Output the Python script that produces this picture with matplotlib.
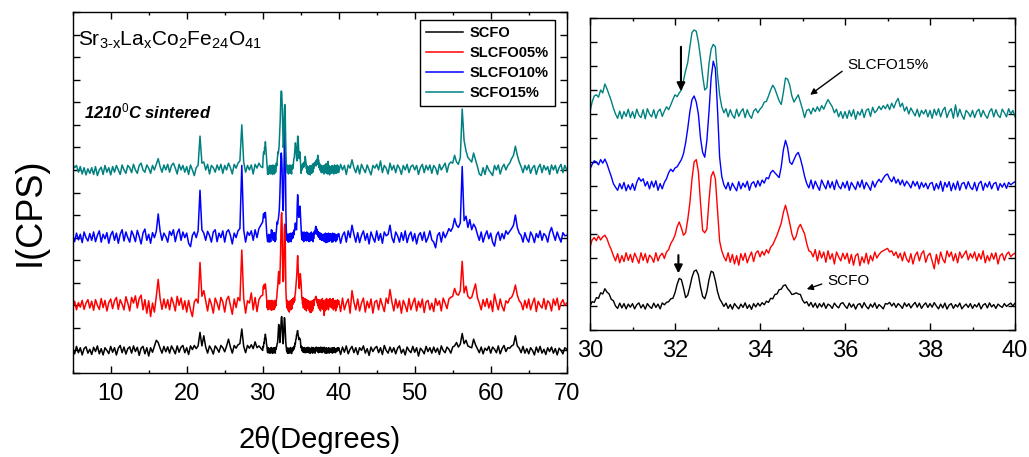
import numpy as np
import matplotlib.pyplot as plt
from matplotlib.ticker import MultipleLocator, NullFormatter

plt.rcParams['font.family'] = ['Liberation Sans', 'DejaVu Sans']
plt.rcParams['mathtext.fontset'] = 'custom'
plt.rcParams['mathtext.rm'] = 'Liberation Sans'
plt.rcParams['mathtext.it'] = 'Liberation Sans:italic'
plt.rcParams['mathtext.bf'] = 'Liberation Sans:bold'

# 2-theta grid: coarse outside 30-40, fine inside (that part is shown in the zoom panel)
two_theta = np.concatenate([np.linspace(5, 29.75, 100),
                            np.linspace(30, 39.95, 200),
                            np.linspace(40, 70, 121)])

# relative intensities (arbitrary units)
scfo = [
    # 5.00 - 29.75
    0.05, -0.15, 0.18, -0.1, 0.12, -0.2, 0.08, 0.16, -0.12, 0.05,
    -0.18, 0.14, -0.05, 0.2, -0.15, 0.08, -0.2, 0.12, 0.0, -0.14,
    0.18, -0.08, 0.12, -0.2, 0.1, 0.22, -0.1, 0.15, -0.16, 0.08,
    0.16, -0.12, 0.2, -0.05, 0.14, -0.22, 0.1, 0.18, -0.15, 0.12,
    -0.25, 0.12, -0.08, 0.18, 0.45, 0.35, 0.1, -0.12, 0.18, -0.06,
    0.16, -0.12, 0.2, 0.04, -0.15, 0.2, -0.08, 0.14, 0.22, -0.1,
    0.12, -0.18, 0.2, 0.04, 0.22, 0.08, 0.2, 0.8, 0.2, 0.65,
    0.15, -0.12, 0.2, 0.05, -0.16, 0.2, 0.08, -0.08, 0.22, 0.12,
    -0.06, 0.2, 0.5, 0.15, -0.12, 0.22, 0.1, 0.25, 0.3, 0.95,
    0.18, -0.1, 0.22, 0.1, 0.25, 0.08, 0.38, 0.12, 0.2, 0.1,
    # 30.00 - 39.95
    0.0, 0.18, 0.15, 0.35, 0.32, 0.55, 0.5, 0.72, 0.58, 0.5, 0.28, 0.22, 0.0, -0.1, 0.12, -0.08, 0.1, -0.12, 0.08, -0.05,
    0.1, -0.12, 0.05, 0.13, -0.08, 0.06, -0.13, 0.1, -0.02, -0.1, 0.12, -0.06, 0.08, -0.12, 0.13, 0.05, 0.15, 0.18, 0.3, 0.32,
    0.55, 0.9, 1.15, 1.1, 0.75, 0.35, 0.45, 0.8, 1.2, 1.45, 1.5, 1.3, 0.8, 0.4, 0.3, 0.6, 1.1, 1.45, 1.4, 1.05,
    0.6, 0.3, 0.15, -0.02, 0.12, -0.1, 0.06, -0.13, 0.1, -0.02, -0.12, 0.08, -0.06, 0.13, -0.1, 0.05, -0.14, 0.1, -0.04, 0.12,
    0.0, 0.14, 0.05, 0.2, 0.15, 0.32, 0.3, 0.48, 0.5, 0.68, 0.7, 0.85, 0.88, 0.72, 0.62, 0.48, 0.5, 0.55, 0.5, 0.48,
    0.25, 0.12, 0.18, 0.0, 0.15, -0.05, 0.12, -0.08, 0.1, -0.04, 0.13, -0.1, 0.08, 0.02, -0.1, 0.12, 0.0, -0.08, 0.1, 0.14,
    0.0, -0.1, 0.12, -0.05, 0.08, -0.13, 0.06, 0.1, -0.08, 0.14, -0.02, -0.12, 0.08, -0.05, 0.13, -0.1, 0.06, -0.02, -0.12, 0.1,
    0.08, 0.15, 0.0, 0.12, -0.06, 0.1, 0.02, -0.1, 0.13, -0.02, 0.1, -0.08, 0.05, 0.15, -0.05, 0.12, -0.1, 0.04, 0.13, -0.06,
    0.1, -0.05, 0.14, 0.0, -0.12, 0.08, -0.08, 0.12, -0.13, 0.04, 0.1, -0.1, 0.06, -0.04, 0.12, -0.12, 0.0, 0.08, -0.06, 0.1,
    -0.1, 0.06, -0.04, 0.12, -0.12, 0.04, 0.1, -0.08, 0.13, -0.04, 0.06, -0.1, 0.08, 0.0, -0.06, 0.1, -0.02, 0.06, 0.12, 0.0,
    # 40.00 - 70.00
    0.12, -0.18, 0.15, -0.08, 0.2, -0.15, 0.05, 0.18, -0.1, 0.12,
    -0.18, 0.12, 0.0, 0.2, -0.12, 0.08, -0.22, 0.15, -0.05, 0.1,
    0.18, -0.1, 0.12, -0.18, 0.22, 0.0, -0.12, 0.15, -0.08, 0.12,
    -0.15, 0.1, 0.2, -0.12, 0.05, -0.2, 0.15, 0.0, -0.1, 0.18,
    -0.08, 0.12, -0.25, 0.1, 0.0, -0.15, 0.18, -0.05, 0.12, -0.12,
    0.15, -0.08, 0.1, -0.18, 0.2, 0.0, -0.1, 0.15, 0.05, -0.12,
    0.15, 0.2, 0.35, 0.15, 0.28, 0.75, 0.3, 0.45, 0.2, 0.15,
    0.12, 0.5, 0.25, 0.08, -0.1, 0.15, -0.15, 0.1, 0.0, 0.18,
    -0.12, 0.15, 0.05, -0.1, 0.2, -0.15, 0.08, 0.22, -0.05, 0.12,
    0.1, 0.2, 0.25, 0.65, 0.2, 0.1, -0.1, 0.18, -0.12, 0.08,
    -0.15, 0.12, 0.0, -0.2, 0.15, -0.08, 0.18, -0.12, 0.05, -0.18,
    0.12, -0.05, 0.15, -0.12, 0.08, -0.2, 0.1, 0.0, -0.15, 0.12,
    0.05,
]

slcfo05 = [
    -0.1, 0.18, -0.2, 0.12, -0.08, 0.22, -0.18, 0.1, 0.25, -0.12,
    0.18, -0.22, 0.25, 0.0, -0.18, 0.3, -0.1, 0.22, -0.25, 0.12,
    0.28, -0.15, 0.2, 0.35, -0.18, 0.25, 0.05, -0.2, 0.38, 0.1,
    -0.25, 0.35, 0.1, 0.42, -0.12, 0.3, 0.45, -0.2, 0.25, -0.35,
    0.2, -0.5, 0.1, -0.3, 0.4, 1.15, 0.3, -0.18, 0.28, -0.12,
    0.25, -0.2, 0.35, 0.1, -0.25, 0.4, 0.0, 0.32, -0.18, 0.2,
    -0.3, 0.22, -0.2, -0.5, 0.15, 0.28, 0.1, 1.9, 0.4, 0.65,
    0.2, -0.25, 0.3, 0.05, -0.35, 0.32, 0.1, -0.2, 0.35, 0.15,
    -0.3, 0.25, 0.4, 0.0, -0.4, 0.28, -0.1, 0.35, 0.2, 2.45,
    0.3, -0.35, 0.2, 0.1, 0.55, -0.2, 0.35, -0.28, 0.25, 0.4,
    0.45, 0.75, 0.85, 0.72, 0.92, 0.75, 0.88, 0.95, 0.8, 0.55, 0.35, 0.1, -0.12, 0.18, -0.2, 0.1, -0.15, 0.22, -0.1, 0.15,
    -0.18, 0.2, 0.0, -0.22, 0.22, -0.1, 0.18, -0.2, 0.12, 0.02, -0.18, 0.22, -0.12, 0.1, 0.2, -0.02, 0.25, 0.35, 0.6, 0.75,
    0.95, 1.3, 1.5, 1.25, 0.95, 1.05, 1.6, 2.3, 3.3, 4.0, 4.1, 3.6, 2.3, 1.15, 1.05, 1.2, 2.4, 3.4, 3.6, 3.3,
    2.0, 0.7, 0.3, 0.05, -0.12, 0.22, -0.18, 0.15, -0.25, 0.1, -0.3, 0.18, -0.1, 0.2, -0.2, 0.05, 0.25, -0.15, 0.2, 0.3,
    0.05, 0.28, 0.12, 0.35, 0.2, 0.45, 0.55, 0.75, 0.95, 1.2, 1.45, 1.9, 2.2, 1.85, 1.45, 1.0, 0.75, 0.9, 1.25, 1.4,
    1.2, 1.0, 0.6, 0.3, 0.25, 0.05, 0.35, -0.12, 0.3, 0.0, 0.25, -0.18, 0.3, -0.05, 0.18, -0.25, 0.25, 0.05, -0.12, 0.2,
    -0.05, 0.2, -0.22, 0.15, -0.3, 0.1, 0.18, -0.32, 0.05, -0.2, 0.2, -0.25, 0.1, -0.12, 0.25, 0.0, 0.15, 0.25, 0.3, 0.35,
    0.4, 0.25, 0.3, 0.1, 0.25, 0.0, 0.2, -0.12, 0.25, -0.05, -0.18, 0.18, -0.25, 0.1, 0.25, -0.12, 0.18, 0.3, -0.18, 0.1,
    0.2, -0.12, -0.45, 0.15, -0.25, 0.25, -0.05, -0.2, 0.3, 0.05, 0.25, -0.12, 0.18, -0.2, 0.25, 0.0, 0.15, 0.3, -0.08, 0.18,
    0.0, 0.25, -0.12, 0.18, -0.05, 0.3, -0.2, 0.1, -0.12, 0.2, -0.05, 0.22, -0.25, 0.1, 0.18, -0.1, 0.15, 0.25, 0.05, 0.15,
    0.2, -0.28, 0.32, -0.2, 0.1, 0.28, -0.35, 0.65, 0.15, -0.2,
    0.28, -0.25, 0.1, 0.32, -0.3, 0.18, -0.12, 0.28, -0.35, 0.15,
    0.22, -0.2, 0.3, 0.0, -0.28, 0.32, 0.08, 0.7, 0.15, -0.25,
    0.28, -0.12, 0.2, -0.35, 0.22, 0.0, -0.28, 0.3, -0.2, 0.1,
    0.32, -0.25, 0.18, -0.1, 0.28, -0.32, 0.15, 0.22, -0.2, 0.1,
    -0.28, 0.3, 0.0, 0.2, -0.25, 0.32, 0.1, -0.15, 0.28, 0.35,
    0.4, 0.75, 0.5, 0.45, 0.65, 1.95, 0.55, 0.85, 0.4, 0.3,
    0.35, 0.65, 0.95, 0.35, 0.1, -0.2, 0.25, -0.05, 0.3, -0.12,
    0.2, -0.28, 0.5, 0.1, -0.2, 0.28, -0.05, -0.25, 0.2, 0.1,
    0.3, 0.35, 0.55, 0.9, 0.45, 0.2, 0.1, -0.2, 0.22, -0.12,
    0.28, -0.2, 0.1, 0.32, -0.28, 0.18, 0.0, -0.12, 0.3, -0.18,
    0.2, 0.1, -0.25, 0.28, 0.0, 0.32, -0.2, 0.1, 0.25, 0.0,
    0.1,
]

slcfo10 = [
    0.1, -0.18, 0.2, -0.1, 0.15, -0.22, 0.25, 0.0, -0.15, 0.18,
    -0.12, 0.25, -0.18, 0.1, 0.3, -0.2, 0.15, -0.05, 0.22, -0.25,
    0.12, 0.28, -0.12, 0.2, -0.25, 0.15, 0.35, -0.15, 0.25, 0.0,
    -0.2, 0.3, 0.1, -0.18, 0.32, 0.05, -0.28, 0.2, 0.38, -0.12,
    0.15, -0.25, 0.22, 0.0, 0.28, 1.05, 0.3, -0.12, 0.2, 0.05,
    -0.2, 0.28, 0.1, 0.35, -0.18, 0.2, 0.38, -0.12, 0.25, 0.0,
    0.2, -0.25, -0.4, 0.1, 0.25, 0.0, 0.3, 2.1, 0.35, 0.2,
    -0.12, 0.28, 0.1, -0.2, 0.25, 0.35, -0.18, 0.2, 0.0, 0.3,
    -0.2, 0.25, 0.35, 0.1, -0.28, 0.2, 0.0, 0.3, 0.4, 3.2,
    0.35, -0.2, 0.25, 0.1, 0.3, -0.12, 0.35, 0.0, 0.4, 0.55,
    0.7, 0.9, 1.05, 1.0, 0.88, 1.1, 0.95, 1.12, 0.92, 0.65, 0.4, 0.1, -0.05, -0.18, 0.1, -0.12, 0.15, -0.2, 0.05, -0.15,
    0.1, -0.18, 0.15, 0.35, 0.2, 0.3, 0.0, 0.18, -0.12, 0.2, -0.05, 0.22, -0.18, 0.1, -0.12, 0.15, 0.3, 0.55, 0.7, 0.6,
    0.75, 0.8, 0.95, 1.1, 1.35, 1.8, 2.4, 3.1, 3.6, 3.75, 3.5, 3.0, 2.0, 1.4, 1.2, 1.9, 3.1, 4.5, 5.2, 4.9,
    3.2, 1.2, 0.4, 0.05, -0.12, 0.15, -0.18, 0.12, -0.05, -0.2, 0.18, -0.12, 0.12, -0.05, 0.2, -0.18, 0.1, 0.18, -0.05, 0.22,
    0.0, 0.25, 0.12, 0.35, 0.3, 0.55, 0.65, 0.55, 0.45, 0.35, 0.8, 1.5, 1.9, 1.6, 1.0, 0.9, 1.1, 1.3, 1.4, 1.15,
    0.8, 0.4, 0.1, -0.08, 0.25, -0.12, 0.2, 0.0, -0.18, 0.25, 0.05, -0.12, 0.22, -0.08, 0.18, -0.15, 0.25, 0.0, -0.12, 0.15,
    -0.08, 0.2, -0.18, 0.15, 0.0, -0.15, 0.18, -0.05, 0.25, -0.12, 0.15, 0.0, -0.18, 0.2, -0.05, 0.15, 0.28, 0.15, 0.32, 0.45,
    0.5, 0.3, 0.18, 0.38, 0.12, 0.28, 0.05, 0.25, 0.0, 0.2, 0.08, -0.08, 0.2, 0.0, 0.18, -0.12, 0.15, -0.05, 0.12, -0.12,
    0.1, 0.15, -0.18, 0.1, -0.12, 0.2, -0.22, 0.15, -0.05, 0.18, -0.2, 0.12, -0.15, 0.2, -0.18, 0.1, 0.15, -0.12, 0.18, -0.05,
    -0.15, 0.15, -0.2, 0.1, 0.2, -0.18, 0.12, -0.05, 0.18, -0.12, 0.1, 0.15, -0.18, 0.1, -0.05, 0.12, -0.1, 0.15, 0.05, 0.12,
    0.18, -0.25, 0.1, 0.25, -0.2, 0.3, 0.0, 0.55, 0.15, -0.2,
    0.22, -0.22, 0.1, 0.3, -0.12, 0.18, -0.28, 0.25, 0.0, -0.2,
    0.3, -0.12, 0.18, -0.25, 0.25, 0.08, 0.15, 0.55, 0.0, -0.22,
    0.25, 0.08, -0.2, 0.22, -0.12, 0.3, -0.22, 0.1, 0.25, -0.15,
    0.18, -0.28, 0.1, 0.22, -0.12, 0.25, -0.2, 0.0, 0.3, -0.1,
    -0.2, -0.45, 0.1, 0.22, -0.2, 0.25, 0.0, 0.18, 0.4, 0.28,
    0.45, 0.85, 0.55, 0.45, 0.65, 3.15, 0.75, 0.95, 0.45, 0.8,
    0.35, 0.6, 0.45, 0.15, -0.12, 0.25, -0.2, 0.1, 0.3, -0.05,
    0.2, -0.2, -0.38, 0.1, 0.25, -0.12, 0.18, -0.05, 0.3, 0.15,
    0.28, 0.4, 0.55, 1.0, 0.45, 0.2, 0.1, -0.2, 0.22, -0.05,
    -0.2, 0.25, 0.08, -0.22, 0.18, 0.0, 0.3, -0.12, 0.18, 0.08,
    -0.2, 0.22, 0.45, 0.15, -0.12, 0.25, 0.0, -0.2, 0.22, 0.08,
    0.1,
]

scfo15 = [
    0.25, 0.1, 0.2, -0.1, 0.15, -0.18, 0.1, -0.22, 0.05, -0.15,
    0.1, -0.2, 0.15, -0.25, 0.0, 0.12, -0.2, 0.2, -0.1, 0.1,
    -0.22, 0.15, -0.1, 0.2, 0.0, -0.2, 0.22, 0.0, -0.15, 0.2,
    0.1, -0.12, 0.25, 0.0, -0.15, 0.2, 0.3, 0.0, -0.1, 0.22,
    0.08, -0.15, 0.2, 0.0, 0.25, 0.5, 0.15, -0.1, 0.22, 0.0,
    0.25, -0.1, 0.2, 0.3, 0.08, -0.18, 0.25, 0.0, 0.2, -0.1,
    0.15, -0.2, 0.22, 0.0, -0.25, 0.1, 0.2, 1.5, 0.3, 0.35,
    0.0, 0.25, -0.18, 0.2, 0.1, -0.1, 0.22, 0.0, 0.25, -0.15,
    0.2, 0.0, 0.3, 0.1, -0.18, 0.25, 0.08, 0.3, 0.4, 2.0,
    0.35, -0.1, 0.2, 0.0, 0.22, -0.18, 0.25, 0.08, 0.3, 0.15,
    0.1, 0.5, 0.75, 0.8, 0.7, 1.0, 0.88, 1.25, 1.05, 0.8, 0.55, 0.25, 0.0, -0.18, 0.12, -0.2, 0.1, -0.1, 0.2, -0.15,
    0.1, -0.18, 0.2, -0.05, -0.15, 0.18, -0.2, 0.22, 0.0, -0.12, 0.18, -0.18, 0.1, 0.2, -0.1, 0.12, 0.3, 0.18, 0.38, 0.6,
    0.8, 0.72, 0.88, 1.0, 1.4, 1.8, 2.15, 2.8, 3.4, 3.5, 3.45, 3.0, 2.35, 1.6, 1.0, 1.1, 2.1, 2.7, 2.9, 2.8,
    1.65, 0.8, 0.3, 0.05, 0.22, -0.12, 0.18, -0.05, -0.18, 0.2, -0.1, 0.1, 0.22, -0.15, 0.18, -0.05, -0.18, 0.12, 0.22, 0.05,
    0.2, 0.3, 0.5, 0.52, 0.75, 1.0, 1.2, 1.05, 0.8, 0.55, 0.4, 0.9, 1.5, 1.45, 1.2, 0.75, 0.5, 0.65, 0.8, 0.5,
    0.2, -0.15, 0.15, 0.2, 0.0, 0.25, 0.1, 0.3, 0.12, 0.35, 0.2, 0.42, 0.6, 0.45, 0.3, 0.05, 0.2, -0.12, 0.1, -0.18,
    0.1, -0.18, 0.15, -0.1, 0.18, -0.22, 0.1, -0.05, 0.2, -0.15, 0.15, 0.22, -0.1, 0.28, 0.05, 0.15, 0.32, 0.18, 0.35, 0.22,
    0.4, 0.18, 0.45, 0.25, 0.5, 0.65, 0.3, 0.45, 0.12, 0.3, 0.0, 0.25, 0.08, -0.08, 0.2, -0.12, 0.15, 0.0, 0.18, -0.12,
    0.15, -0.18, 0.2, -0.05, 0.22, -0.12, 0.15, 0.28, -0.15, 0.1, 0.22, -0.18, 0.38, -0.12, 0.2, -0.05, -0.22, 0.15, 0.05, -0.12,
    0.15, -0.15, 0.1, 0.2, -0.12, 0.15, -0.05, -0.18, 0.1, 0.22, -0.12, 0.18, -0.05, -0.15, 0.2, 0.05, -0.12, 0.22, 0.0, 0.15,
    -0.12, 0.25, 0.0, 0.2, -0.2, 0.22, 0.08, 0.45, 0.1, -0.12,
    0.2, -0.18, 0.25, 0.05, -0.12, 0.22, 0.0, -0.22, 0.2, 0.08,
    0.25, 0.0, 0.4, -0.12, 0.2, 0.08, -0.18, 0.3, 0.0, 0.2,
    -0.12, 0.22, 0.08, -0.2, 0.2, 0.0, 0.25, -0.12, 0.15, 0.22,
    0.0, 0.2, -0.2, 0.1, 0.25, -0.12, 0.2, 0.0, 0.22, -0.15,
    0.2, 0.08, -0.2, 0.25, 0.0, 0.15, 0.3, -0.1, 0.25, 0.35,
    0.3, 0.65, 0.35, 0.25, 0.55, 2.7, 1.3, 0.85, 0.55, 0.45,
    0.35, 0.75, 0.45, 0.15, -0.18, -0.25, 0.1, -0.2, 0.2, 0.0,
    -0.12, -0.25, 0.2, 0.0, 0.22, -0.18, 0.1, 0.25, 0.0, 0.2,
    0.3, 0.5, 0.65, 1.05, 0.65, 0.35, 0.15, -0.12, 0.2, 0.0,
    0.22, -0.15, 0.1, 0.2, -0.2, 0.1, 0.25, -0.12, 0.2, 0.0,
    0.15, -0.2, 0.22, 0.0, 0.2, -0.15, 0.1, 0.25, -0.12, 0.2,
    0.0,
]

samples = ['SCFO', 'SLCFO05%', 'SLCFO10%', 'SCFO15%']
series = [scfo, slcfo05, slcfo10, scfo15]
colors = ['black', 'red', 'blue', '#008080']
offsets = [1, 3, 6, 9]

fig = plt.figure(figsize=(10.29, 4.57), dpi=100)
ax1 = fig.add_axes([72.7 / 1029, 1 - 373 / 457, 494 / 1029, 361 / 457])
ax2 = fig.add_axes([590 / 1029, 1 - 330 / 457, 425 / 1029, 312 / 457])

for y, name, c, off in zip(series, samples, colors, offsets):
    ax1.plot(two_theta, np.array(y) + off, color=c, lw=1.1, label=name)
    ax2.plot(two_theta, np.array(y) + off, color=c, lw=1.0)

for ax in (ax1, ax2):
    ax.tick_params(which='both', direction='in', top=True, right=True,
                   labelsize=17, width=1, pad=7)
    ax.tick_params(which='major', length=5)
    ax.tick_params(which='minor', length=2.5)
    ax.yaxis.set_major_locator(MultipleLocator(1))
    ax.yaxis.set_major_formatter(NullFormatter())
    for sp in ax.spines.values():
        sp.set_linewidth(1.0)

ax1.set_xlim(5, 70)
ax1.set_ylim(0, 16)
ax1.xaxis.set_major_locator(MultipleLocator(10))
ax1.xaxis.set_minor_locator(MultipleLocator(5))
ax1.set_xlabel('2θ(Degrees)', fontsize=21, labelpad=15)
ax1.set_ylabel('I(CPS)', fontsize=26)
ax1.yaxis.set_label_coords(-0.05, 0.446)

ax2.set_xlim(30, 40)
ax2.set_ylim(0, 13)
ax2.xaxis.set_major_locator(MultipleLocator(2))
ax2.xaxis.set_minor_locator(MultipleLocator(1))

leg = ax1.legend(loc='upper right', bbox_to_anchor=(0.976, 0.978), frameon=True,
                 fancybox=False, edgecolor='black', framealpha=1, borderaxespad=0,
                 prop={'weight': 'bold', 'size': 10.5}, handlelength=2.5,
                 labelspacing=0.42, handletextpad=0.5, borderpad=0.4)
leg.get_frame().set_linewidth(1.0)

ax1.text(0.01, 0.906, r'Sr$_{\text{3-x}}$La$_{\mathrm{x}}$Co$_{\mathrm{2}}$Fe$_{\mathrm{24}}$O$_{\mathrm{41}}$',
         transform=ax1.transAxes, fontsize=15, va='baseline', ha='left')
ax1.text(0.022, 0.705, r'1210$^{\mathit{0}}$C sintered', transform=ax1.transAxes,
         fontsize=12, fontweight='bold', fontstyle='italic', va='baseline', ha='left')

# arrows and labels in the zoom panel
arrow = dict(arrowstyle='-|>', color='black', lw=1.5, mutation_scale=12, shrinkA=0, shrinkB=0)
ax2.annotate('', xy=(32.14, 9.95), xytext=(32.14, 11.8), arrowprops=arrow)
ax2.annotate('', xy=(32.08, 2.36), xytext=(32.08, 3.12), arrowprops=arrow)
ax2.annotate('SLCFO15%', xy=(35.18, 9.8), xytext=(36.05, 11.05), fontsize=11,
             va='center', ha='left',
             arrowprops=dict(arrowstyle='-|>', color='black', lw=1.0, mutation_scale=9,
                             relpos=(0, 0.3), shrinkA=2, shrinkB=0))
ax2.annotate('SCFO', xy=(35.1, 1.7), xytext=(35.58, 2.05), fontsize=11,
             va='center', ha='left',
             arrowprops=dict(arrowstyle='-|>', color='black', lw=1.0, mutation_scale=9,
                             relpos=(0, 0.4), shrinkA=2, shrinkB=0))

fig.savefig('out.png', dpi=100)
